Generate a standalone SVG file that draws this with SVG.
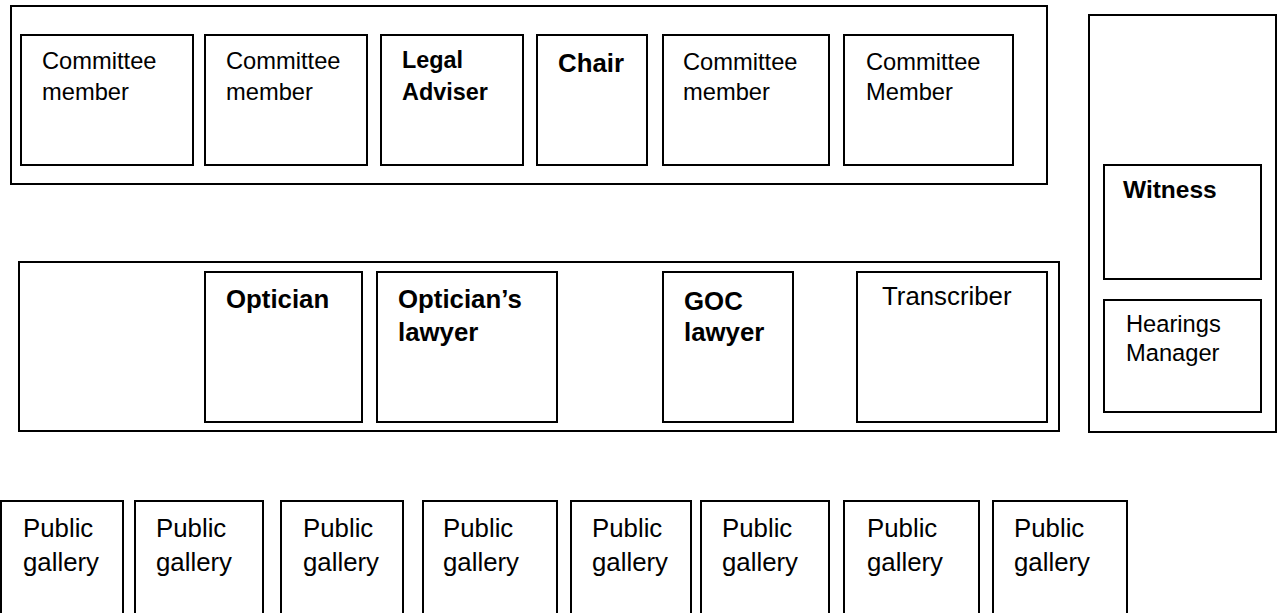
<svg xmlns="http://www.w3.org/2000/svg" width="1278" height="613" viewBox="0 0 1278 613">
  <style>
    .area { fill: #fff; stroke: #000; stroke-width: 2; }
    .box { fill: #fff; stroke: #000; stroke-width: 2; }
    text { font-family: "Liberation Sans", Arial, sans-serif; fill: #000; }
    .r { font-size: 23.7px; }
    .pg { font-size: 25.8px; }
    .b { font-weight: bold; font-size: 25.8px; }
    .bs { font-weight: bold; font-size: 23.4px; }
  </style>
  <rect width="1278" height="613" fill="#fff"/>

  <!-- Panel bench -->
  <g id="bench">
    <rect class="area" x="11" y="6" width="1036" height="178"/>
  </g>
  <g id="committee-member-1">
    <rect class="box" x="21" y="35" width="172" height="130"/>
    <text class="r" x="42" y="69">Committee</text>
    <text class="r" x="42" y="100">member</text>
  </g>
  <g id="committee-member-2">
    <rect class="box" x="205" y="35" width="162" height="130"/>
    <text class="r" x="226" y="69">Committee</text>
    <text class="r" x="226" y="100">member</text>
  </g>
  <g id="legal-adviser">
    <rect class="box" x="381" y="35" width="142" height="130"/>
    <text class="bs" x="402" y="68">Legal</text>
    <text class="bs" x="402" y="100">Adviser</text>
  </g>
  <g id="chair">
    <rect class="box" x="537" y="35" width="110" height="130"/>
    <text class="b" x="558" y="72">Chair</text>
  </g>
  <g id="committee-member-3">
    <rect class="box" x="663" y="35" width="166" height="130"/>
    <text class="r" x="683" y="70">Committee</text>
    <text class="r" x="683" y="100">member</text>
  </g>
  <g id="committee-member-4">
    <rect class="box" x="844" y="35" width="169" height="130"/>
    <text class="r" x="866" y="70">Committee</text>
    <text class="r" x="866" y="100">Member</text>
  </g>

  <!-- Parties table -->
  <g id="parties">
    <rect class="area" x="19" y="262" width="1040" height="169"/>
  </g>
  <g id="optician">
    <rect class="box" x="205" y="272" width="157" height="150"/>
    <text class="b" x="226" y="308">Optician</text>
  </g>
  <g id="opticians-lawyer">
    <rect class="box" x="377" y="272" width="180" height="150"/>
    <text class="b" x="398" y="308">Optician’s</text>
    <text class="b" x="398" y="341">lawyer</text>
  </g>
  <g id="goc-lawyer">
    <rect class="box" x="663" y="272" width="130" height="150"/>
    <text class="b" x="684" y="310">GOC</text>
    <text class="b" x="684" y="341">lawyer</text>
  </g>
  <g id="transcriber">
    <rect class="box" x="857" y="272" width="190" height="150"/>
    <text class="pg" x="882" y="305">Transcriber</text>
  </g>

  <!-- Side area -->
  <g id="side">
    <rect class="area" x="1089" y="15" width="187" height="417"/>
  </g>
  <g id="witness">
    <rect class="box" x="1104" y="165" width="157" height="114"/>
    <text class="bs" x="1123" y="198" style="font-size:24.5px">Witness</text>
  </g>
  <g id="hearings-manager">
    <rect class="box" x="1104" y="300" width="157" height="112"/>
    <text class="r" x="1126" y="332">Hearings</text>
    <text class="r" x="1126" y="361">Manager</text>
  </g>

  <!-- Public gallery seating -->
  <g id="public-gallery-1">
    <rect class="box" x="1" y="501" width="122" height="130"/>
    <text class="pg" x="23" y="537">Public</text>
    <text class="pg" x="23" y="571">gallery</text>
  </g>
  <g id="public-gallery-2">
    <rect class="box" x="135" y="501" width="128" height="130"/>
    <text class="pg" x="156" y="537">Public</text>
    <text class="pg" x="156" y="571">gallery</text>
  </g>
  <g id="public-gallery-3">
    <rect class="box" x="281" y="501" width="122" height="130"/>
    <text class="pg" x="303" y="537">Public</text>
    <text class="pg" x="303" y="571">gallery</text>
  </g>
  <g id="public-gallery-4">
    <rect class="box" x="423" y="501" width="134" height="130"/>
    <text class="pg" x="443" y="537">Public</text>
    <text class="pg" x="443" y="571">gallery</text>
  </g>
  <g id="public-gallery-5">
    <rect class="box" x="571" y="501" width="120" height="130"/>
    <text class="pg" x="592" y="537">Public</text>
    <text class="pg" x="592" y="571">gallery</text>
  </g>
  <g id="public-gallery-6">
    <rect class="box" x="701" y="501" width="128" height="130"/>
    <text class="pg" x="722" y="537">Public</text>
    <text class="pg" x="722" y="571">gallery</text>
  </g>
  <g id="public-gallery-7">
    <rect class="box" x="844" y="501" width="135" height="130"/>
    <text class="pg" x="867" y="537">Public</text>
    <text class="pg" x="867" y="571">gallery</text>
  </g>
  <g id="public-gallery-8">
    <rect class="box" x="993" y="501" width="134" height="130"/>
    <text class="pg" x="1014" y="537">Public</text>
    <text class="pg" x="1014" y="571">gallery</text>
  </g>

  <!-- No connectors in this layout -->
  <g id="connectors"/>
</svg>
